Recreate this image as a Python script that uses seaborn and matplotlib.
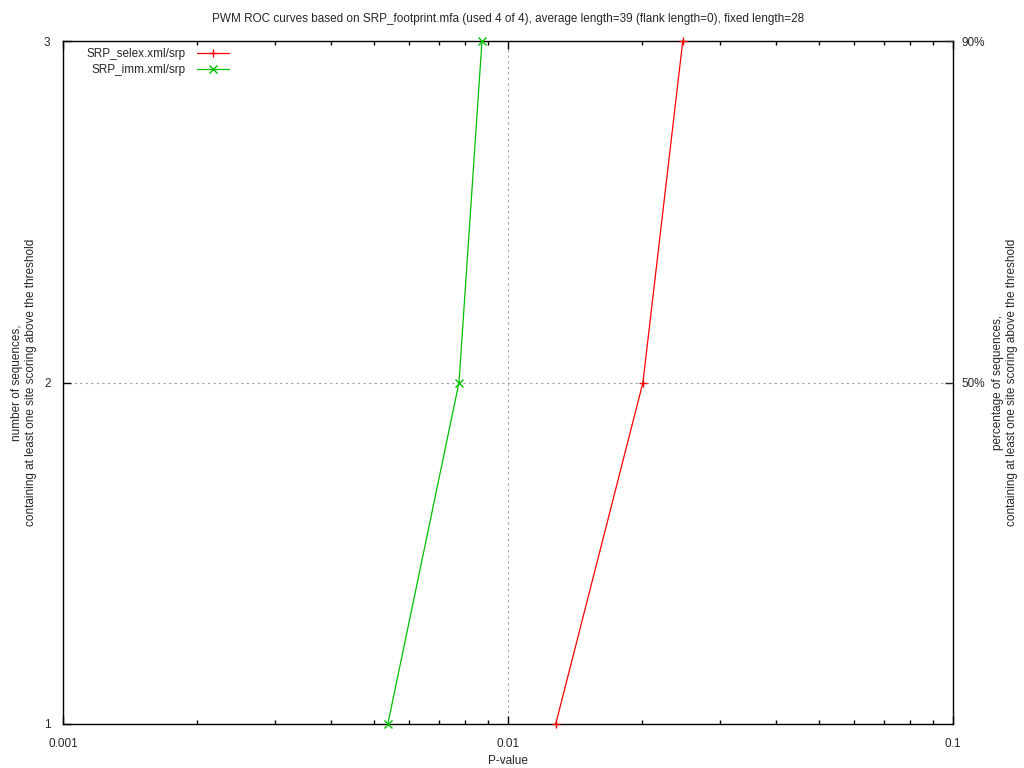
import pandas as pd
import matplotlib
matplotlib.use("Agg")
import matplotlib.pyplot as plt
import seaborn as sns
from matplotlib.ticker import LogLocator, FixedLocator, NullFormatter

# values
selex_p = [0.0128, 0.0201, 0.0247]
selex_n = [1, 2, 3]
imm_p = [0.00537, 0.00776, 0.00874]
imm_n = [1, 2, 3]
right_ticks = [2, 3]
right_labels = ["50%", "90%"]

sns.set_style("white")
plt.rcParams["font.family"] = ["Liberation Sans", "DejaVu Sans"]
plt.rcParams["font.size"] = 8.5

df = pd.concat([
    pd.DataFrame({"p": selex_p, "n": selex_n, "motif": "SRP_selex.xml/srp"}),
    pd.DataFrame({"p": imm_p, "n": imm_n, "motif": "SRP_imm.xml/srp"}),
])

fig = plt.figure(figsize=(10.24, 7.68), dpi=100)
ax = fig.add_axes([0.0615, 0.0573, 0.8692, 0.8893])

sns.lineplot(data=df, x="p", y="n", hue="motif", style="motif",
             palette=["#ff0000", "#00c000"], markers=["+", "x"], dashes=False,
             sort=False, linewidth=0.9, markersize=6, ax=ax)
for ln in ax.lines:
    ln.set_markeredgecolor(ln.get_color())
    ln.set_markeredgewidth(1.0)
    ln.set_clip_on(False)
    ln.set_zorder(3)

ax.set_xscale("log")
ax.set_xlim(0.001, 0.1)
ax.set_ylim(1, 3)
ax.xaxis.set_major_locator(FixedLocator([0.001, 0.01, 0.1]))
ax.set_xticklabels(["0.001", "0.01", "0.1"])
ax.xaxis.set_minor_locator(LogLocator(base=10, subs=range(2, 10)))
ax.xaxis.set_minor_formatter(NullFormatter())
ax.yaxis.set_major_locator(FixedLocator([1, 2, 3]))
ax.set_yticklabels(["1", "2", "3"])

ax.tick_params(which="both", direction="in", top=True, bottom=True, left=True,
               right=False, color="black")
ax.tick_params(which="major", length=6, width=1)
ax.tick_params(which="minor", length=3, width=1)
ax.tick_params(axis="x", which="major", pad=10)
ax.tick_params(axis="y", which="major", pad=9)
ax.grid(True, which="major", color="#a0a0a0", linestyle=(0, (2, 3)), linewidth=0.8)
for s in ax.spines.values():
    s.set_color("black")
    s.set_linewidth(1)

ax.set_xlabel("P-value", labelpad=4)
ax.set_ylabel("number of sequences,\ncontaining at least one site scoring above the threshold",
              labelpad=5)
ax.set_title("PWM ROC curves based on SRP_footprint.mfa (used 4 of 4), average length=39 "
             "(flank length=0), fixed length=28", fontsize=8.5, pad=14)

ax2 = ax.twinx()
ax2.set_ylim(1, 3)
ax2.yaxis.set_major_locator(FixedLocator(right_ticks))
ax2.set_yticklabels(right_labels)
ax2.tick_params(direction="in", length=6, width=1, pad=6)
ax2.set_ylabel("percentage of sequences,\ncontaining at least one site scoring above the threshold",
               rotation=90, labelpad=5)
ax2.yaxis.set_label_position("right")
for s in ax2.spines.values():
    s.set_visible(False)

leg = ax.legend(loc="upper left", frameon=False, markerfirst=False,
                handlelength=2.7, handletextpad=1.0, borderaxespad=0.2,
                labelspacing=0.3, bbox_to_anchor=(0.018, 1.0))
for h in leg.legend_handles:
    h.set_markeredgecolor(h.get_color())
    h.set_markeredgewidth(1.0)

fig.savefig("out.png", dpi=100)
